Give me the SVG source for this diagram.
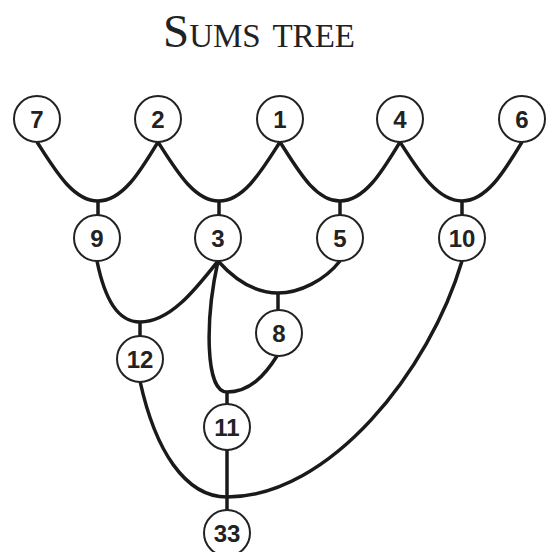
<svg xmlns="http://www.w3.org/2000/svg" width="547" height="552" viewBox="0 0 547 552">
<style>
.node circle{fill:#fff;stroke:#222;stroke-width:2}
.node text{font-family:"Liberation Sans",Arial,sans-serif;font-weight:bold;font-size:24px;fill:#222;text-anchor:middle}
#connectors path{fill:none;stroke:#1a1a1a;stroke-width:3.5;stroke-linecap:butt}
.title{font-family:"Liberation Serif","Times New Roman",serif;font-size:47px;font-variant:small-caps;fill:#222;text-anchor:middle}
</style>
<rect width="547" height="552" fill="#fff"/>
<text class="title" x="259" y="47">Sums tree</text>
<g id="connectors">
<path d="M37,142 C55,170 73,201 98,201 C123,201 141,170 158,142"/>
<path d="M158,142 C176,170 194,201 219,201 C244,201 262,170 280,142"/>
<path d="M280,142 C298,170 315,201 340,201 C365,201 383,170 400,142"/>
<path d="M400,142 C418,170 437,201 462,201 C487,201 505,170 522,142"/>
<path d="M98,201 V215 M219,201 V215 M340,201 V215 M462,201 V215"/>
<path d="M97,261 C105,300 118,322 140,322 C170,322 195,290 218,261"/>
<path d="M140,322 V336"/>
<path d="M218,261 C235,280 255,293 278,293 C300,293 325,280 340,261"/>
<path d="M278,293 V310"/>
<path d="M218,261 C205,320 205,392 227,392 C250,392 265,375 277,356"/>
<path d="M227,392 V404"/>
<path d="M140,381 C155,450 185,497 227,497 C330,497 430,370 462,261"/>
<path d="M227,450 V510"/>
</g>
<g id="n7" class="node"><circle cx="37" cy="119" r="23"/><text x="37" y="128">7</text></g>
<g id="n2" class="node"><circle cx="158" cy="119" r="23"/><text x="158" y="128">2</text></g>
<g id="n1" class="node"><circle cx="280" cy="119" r="23"/><text x="280" y="128">1</text></g>
<g id="n4" class="node"><circle cx="400" cy="119" r="23"/><text x="400" y="128">4</text></g>
<g id="n6" class="node"><circle cx="522" cy="119" r="23"/><text x="522" y="128">6</text></g>
<g id="n9" class="node"><circle cx="97" cy="238" r="23"/><text x="97" y="247">9</text></g>
<g id="n3" class="node"><circle cx="218" cy="238" r="23"/><text x="218" y="247">3</text></g>
<g id="n5" class="node"><circle cx="340" cy="238" r="23"/><text x="340" y="247">5</text></g>
<g id="n10" class="node"><circle cx="462" cy="238" r="23"/><text x="462" y="247">10</text></g>
<g id="n8" class="node"><circle cx="279" cy="333" r="23"/><text x="279" y="342">8</text></g>
<g id="n12" class="node"><circle cx="140" cy="359" r="23"/><text x="140" y="368">12</text></g>
<g id="n11" class="node"><circle cx="227" cy="427" r="23"/><text x="227" y="436">11</text></g>
<g id="n33" class="node"><circle cx="227" cy="533" r="23"/><text x="227" y="542">33</text></g>
</svg>
